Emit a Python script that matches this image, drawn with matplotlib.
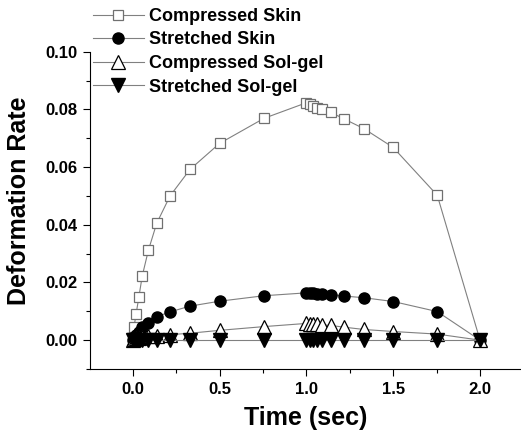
import matplotlib
matplotlib.use('Agg')
import matplotlib.pyplot as plt
from matplotlib.ticker import MultipleLocator

plt.rcParams['font.family'] = ['Liberation Sans', 'DejaVu Sans']
plt.rcParams['font.weight'] = 'bold'

# time points (sec)
time = [0, 0.0075, 0.019, 0.035, 0.055, 0.09, 0.138, 0.215, 0.33, 0.5, 0.756,
        1.0, 1.021, 1.04, 1.063, 1.088, 1.14, 1.217, 1.332, 1.5, 1.754, 2.0]

compressed_skin = [0, 0.0046, 0.0089, 0.0148, 0.0223, 0.0311, 0.0405, 0.0500,
                   0.0592, 0.0682, 0.0769, 0.0823, 0.0818, 0.0812, 0.0806, 0.0800,
                   0.0790, 0.0767, 0.0733, 0.0668, 0.0502, 0.0]
stretched_skin = [0, 0.0009, 0.0018, 0.0030, 0.0045, 0.0061, 0.0081, 0.0098,
                  0.0118, 0.0135, 0.0154, 0.0164, 0.0163, 0.0162, 0.0161, 0.0160,
                  0.0158, 0.0153, 0.0147, 0.0134, 0.0099, 0.0]
compressed_solgel = [0, 0.0003, 0.0006, 0.0009, 0.0011, 0.0013, 0.0016, 0.0019,
                     0.0024, 0.0034, 0.0047, 0.0058, 0.0057, 0.0056, 0.0055, 0.0053,
                     0.0051, 0.0045, 0.0037, 0.0030, 0.0021, 0.0]
stretched_solgel = [0] * len(time)

fig = plt.figure(figsize=(5.21, 4.30), dpi=100)
ax = fig.add_axes([90/521, 1-369/430, 431/521, (369-51.7)/430])

line_col = '#808080'
ax.plot(time, compressed_skin, color=line_col, lw=0.8, marker='s', ms=7,
        mfc='white', mec='#707070', mew=0.9, label='Compressed Skin')
ax.plot(time, stretched_skin, color=line_col, lw=0.8, marker='o', ms=8,
        mfc='black', mec='black', label='Stretched Skin')
ax.plot(time, compressed_solgel, color=line_col, lw=0.8, marker='^', ms=9.5,
        mfc='white', mec='black', mew=0.9, label='Compressed Sol-gel')
ax.plot(time, stretched_solgel, color=line_col, lw=0.8, marker='v', ms=9.5,
        mfc='black', mec='black', label='Stretched Sol-gel')

ax.set_xlim(-0.246, 2.236)
ax.set_ylim(-0.01, 0.10)
ax.spines['top'].set_visible(False)
ax.spines['right'].set_visible(False)
ax.xaxis.set_major_locator(MultipleLocator(0.5))
ax.xaxis.set_minor_locator(MultipleLocator(0.25))
ax.yaxis.set_major_locator(MultipleLocator(0.02))
ax.yaxis.set_minor_locator(MultipleLocator(0.01))
ax.xaxis.set_major_formatter(plt.FormatStrFormatter('%.1f'))
ax.yaxis.set_major_formatter(plt.FormatStrFormatter('%.2f'))
ax.tick_params(which='major', direction='out', length=5, width=0.8, labelsize=12, pad=4)
ax.tick_params(which='minor', direction='out', length=3, width=0.8)

ax.set_xlabel('Time (sec)', fontsize=18, fontweight='bold', labelpad=7)
ax.set_ylabel('Deformation Rate', fontsize=18, fontweight='bold')
ax.yaxis.set_label_coords(-0.137, 0.53)

ax.legend(loc='upper left', bbox_to_anchor=(93/521, 1-8/430), bbox_transform=fig.transFigure,
          frameon=False, borderpad=0, borderaxespad=0, handlelength=2.8,
          handletextpad=0.3, labelspacing=0.36, prop={'weight': 'bold', 'size': 13})

fig.savefig('out.png', dpi=100)
